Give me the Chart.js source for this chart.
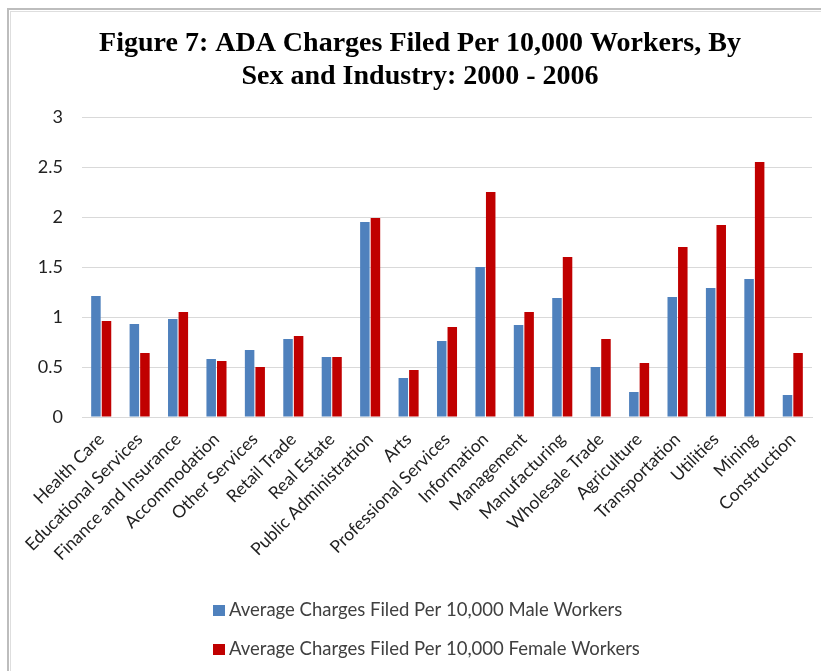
<!DOCTYPE html>
<html>
<head>
<meta charset="utf-8">
<script src="https://cdn.jsdelivr.net/npm/chart.js@4.4.1/dist/chart.umd.min.js"></script>
<style>
  html, body { margin: 0; padding: 0; background: #fff; }
  #wrap { position: relative; width: 821px; height: 671px; overflow: hidden; }
  #frame1 { position: absolute; left: 7px; top: 8px; right: -10px; bottom: -10px; border-left: 2px solid #bdbdbd; border-top: 2px solid #bdbdbd; }
  #frame2 { position: absolute; left: 10px; top: 11px; right: -10px; bottom: -10px; border-left: 1px solid #dedede; border-top: 1px solid #dedede; }
  canvas { position: absolute; left: 0; top: 0; }
</style>
</head>
<body>
<div id="wrap">
  <div id="frame1"></div>
  <div id="frame2"></div>
  <canvas id="chart" width="821" height="671"></canvas>
</div>
<script>
// 산업 분류
const industries = [
  'Health Care', 'Educational Services', 'Finance and Insurance', 'Accommodation',
  'Other Services', 'Retail Trade', 'Real Estate', 'Public Administration', 'Arts',
  'Professional Services', 'Information', 'Management', 'Manufacturing',
  'Wholesale Trade', 'Agriculture', 'Transportation', 'Utilities', 'Mining', 'Construction'
];

// 남성 근로자 1만명당 평균 제기 건수
const maleCharges = [1.21, 0.93, 0.98, 0.58, 0.67, 0.78, 0.60, 1.95, 0.39,
  0.76, 1.50, 0.92, 1.19, 0.50, 0.25, 1.20, 1.29, 1.38, 0.22];

// 여성 근로자 1만명당 평균 제기 건수
const femaleCharges = [0.96, 0.64, 1.05, 0.56, 0.50, 0.81, 0.60, 1.99, 0.47,
  0.90, 2.25, 1.05, 1.60, 0.78, 0.54, 1.70, 1.92, 2.55, 0.64];

const seriesLabels = [
  'Average Charges Filed Per 10,000 Male Workers',
  'Average Charges Filed Per 10,000 Female Workers'
];

const yTicks = [0, 0.5, 1, 1.5, 2, 2.5, 3];

const titleLines = [
  'Figure 7: ADA Charges Filed Per 10,000 Workers, By',
  'Sex and Industry: 2000 - 2006'
];

// 범례를 세로로 두 줄로 그리는 플러그인
const stackedLegend = {
  id: 'stackedLegend',
  afterDraw(chart) {
    const ctx = chart.ctx;
    ctx.save();
    ctx.font = '18.5px Lato';
    ctx.textBaseline = 'middle';
    chart.data.datasets.forEach((ds, i) => {
      const y = 610 + i * 39;
      ctx.fillStyle = ds.backgroundColor;
      ctx.fillRect(213, y - 5, 12, 11);
      ctx.fillStyle = '#404040';
      ctx.fillText(ds.label, 229, y);
    });
    ctx.restore();
  }
};

const ctx = document.getElementById('chart').getContext('2d');
new Chart(ctx, {
  type: 'bar',
  data: {
    labels: industries,
    datasets: [
      {
        label: seriesLabels[0],
        data: maleCharges,
        backgroundColor: '#4f81bd',
        borderWidth: 0,
        categoryPercentage: 0.55,
        barPercentage: 0.9
      },
      {
        label: seriesLabels[1],
        data: femaleCharges,
        backgroundColor: '#c00000',
        borderWidth: 0,
        categoryPercentage: 0.55,
        barPercentage: 0.9
      }
    ]
  },
  options: {
    responsive: false,
    animation: false,
    layout: { padding: { left: 28, right: 9, top: 0, bottom: 0 } },
    plugins: {
      legend: { display: false },
      tooltip: { enabled: false },
      title: {
        display: true,
        text: titleLines,
        color: '#000',
        font: { family: 'Liberation Serif', size: 28, weight: 'bold', lineHeight: 1.18 },
        padding: { top: 27, bottom: 24 }
      }
    },
    scales: {
      x: {
        grid: { display: false, drawTicks: false },
        border: { color: '#d9d9d9', width: 1 },
        ticks: {
          color: '#222',
          font: { family: 'Lato', size: 17.5 },
          minRotation: 45,
          maxRotation: 45,
          padding: 12,
          autoSkip: false
        },
        afterFit(scale) { scale.height = 254; }
      },
      y: {
        min: 0,
        max: 3,
        afterBuildTicks(scale) { scale.ticks = yTicks.map(v => ({ value: v })); },
        grid: { color: '#d9d9d9', drawTicks: false },
        border: { display: false },
        ticks: {
          color: '#222',
          font: { family: 'Lato', size: 18 },
          padding: 19,
          callback: (v) => String(v)
        },
        afterFit(scale) { scale.width = 54; }
      }
    }
  },
  plugins: [stackedLegend]
});
</script>
</body>
</html>
